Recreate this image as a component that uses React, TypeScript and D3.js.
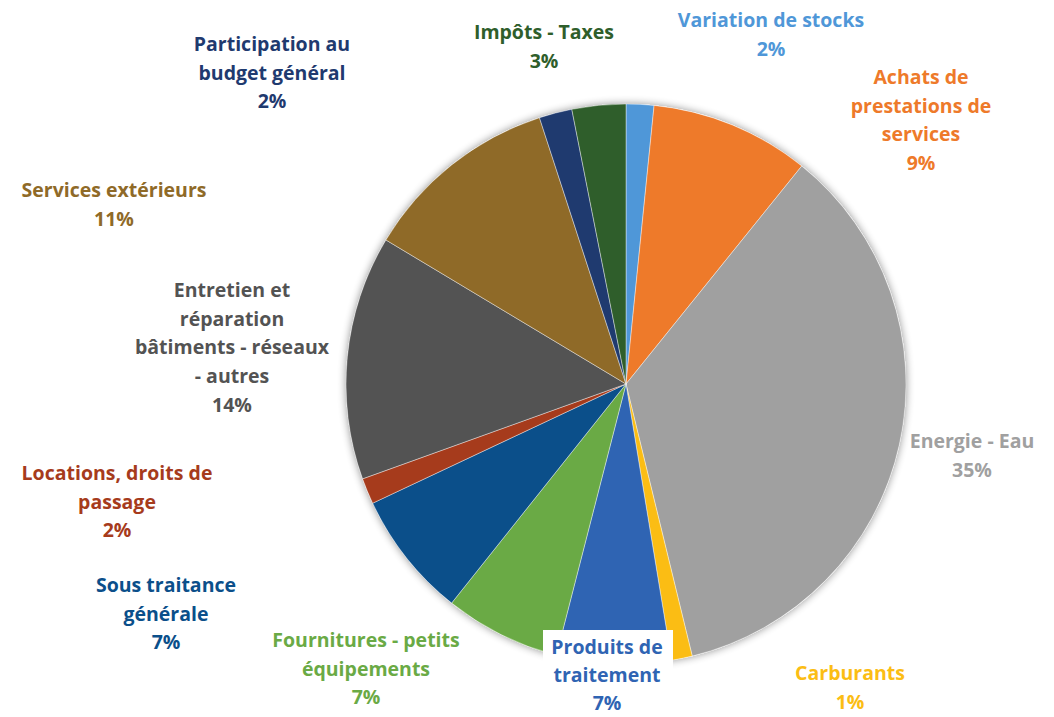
import React from "react";
import * as d3 from "d3";

// slices clockwise from 12 o'clock
const categories = [
  "Variation de stocks",
  "Achats de prestations de services",
  "Energie - Eau",
  "Carburants",
  "Produits de traitement",
  "Fournitures - petits équipements",
  "Sous traitance générale",
  "Locations, droits de passage",
  "Entretien et réparation bâtiments - réseaux - autres",
  "Services extérieurs",
  "Participation au budget général",
  "Impôts - Taxes",
];
const values = [1.6, 9.2, 35.4, 1.2, 6.6, 6.7, 7.3, 1.5, 14.1, 11.4, 1.9, 3.1];

// label line breaks as in the chart
const labelLines = [
  ["Variation de stocks"],
  ["Achats de", "prestations de", "services"],
  ["Energie - Eau"],
  ["Carburants"],
  ["Produits de", "traitement"],
  ["Fournitures - petits", "équipements"],
  ["Sous traitance", "générale"],
  ["Locations, droits de", "passage"],
  ["Entretien et", "réparation", "bâtiments - réseaux", "- autres"],
  ["Services extérieurs"],
  ["Participation au", "budget général"],
  ["Impôts - Taxes"],
];

const colors = [
  "#4f97d8", "#ee7a2a", "#a0a0a0", "#fbbd14", "#2f64b3", "#6aaa45",
  "#0b4f8a", "#a63b1c", "#535353", "#8f6a28", "#1f3a6f", "#2f5e2b",
];

// hand placed label centres (first line centre y)
const labelPos = [
  [771, 20], [921, 77], [972, 441], [850, 673], [607, 647], [366, 640],
  [166, 585], [117, 473], [232, 290], [114, 190], [272, 44], [544, 32],
];

const W = 1054;
const H = 717;
const cx = 626;
const cy = 384;
const R = 280;
const lineH = 28.8;

export default function App() {
  const pie = d3.pie<number>().sort(null).value((d) => d);
  const arcs = pie(values);
  const arc = d3.arc<d3.PieArcDatum<number>>().innerRadius(0).outerRadius(R);

  return (
    <svg width={W} height={H} style={{ position: "absolute", left: 0, top: 0 }}>
      <defs>
        <filter id="shadow" x="-20%" y="-20%" width="140%" height="140%">
          <feGaussianBlur in="SourceAlpha" stdDeviation="4" />
          <feComponentTransfer>
            <feFuncA type="linear" slope="0.45" />
          </feComponentTransfer>
          <feMerge>
            <feMergeNode />
            <feMergeNode in="SourceGraphic" />
          </feMerge>
        </filter>
      </defs>
      <rect width={W} height={H} fill="#fff" />
      <g transform={`translate(${cx},${cy})`}>
        <circle r={R} fill="#fff" filter="url(#shadow)" />
        {arcs.map((a, i) => (
          <path key={i} d={arc(a) || ""} fill={colors[i]} stroke="#ffffff" strokeOpacity={0.5} strokeWidth={0.8} />
        ))}
      </g>
      {labelLines.map((lines, i) => {
        const [x, y] = labelPos[i];
        const all = [...lines, Math.round(values[i]) + "%"];
        return (
          <g key={i}>
            {i === 4 && (
              <rect x={543} y={y - 17} width={130} height={H - y + 17} fill="#fff" />
            )}
            {all.map((t, j) => (
              <text
                key={j}
                x={x}
                y={y + j * (i === 4 ? 28.2 : lineH)}
                dy="0.35em"
                textAnchor="middle"
                fontFamily="'Open Sans', Lato, sans-serif"
                fontWeight="bold"
                fontSize={19.5}
                fill={colors[i]}
              >
                {t}
              </text>
            ))}
          </g>
        );
      })}
    </svg>
  );
}
